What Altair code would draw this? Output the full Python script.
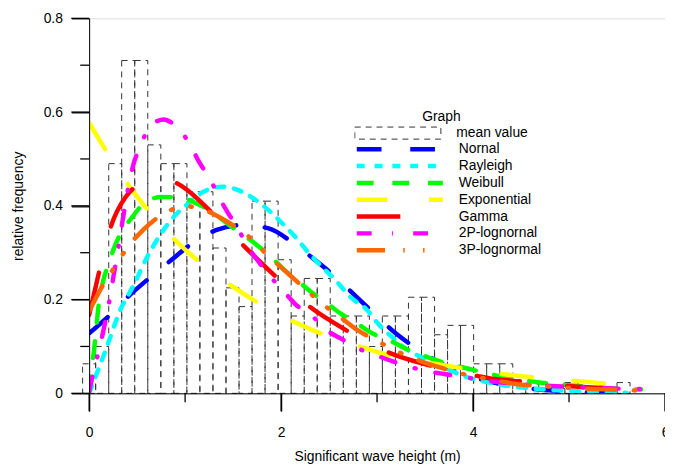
import altair as alt
import pandas as pd

# ---------------- histogram (dashed bars) ----------------
bin_centers = [0.0, 0.136, 0.272, 0.407, 0.543, 0.679, 0.815, 0.951, 1.086, 1.222,
               1.358, 1.494, 1.630, 1.765, 1.901, 2.037, 2.173, 2.309, 2.444, 2.580,
               2.716, 2.852, 2.988, 3.123, 3.259, 3.395, 3.531, 3.667, 3.802, 3.938,
               4.074, 4.210, 4.346, 4.481, 4.617, 4.753, 4.889, 5.025, 5.160, 5.296,
               5.432, 5.568]
rel_freq = [0.063, 0.10, 0.49, 0.71, 0.71, 0.53, 0.49, 0.49, 0.43, 0.43,
            0.31, 0.225, 0.185, 0.41, 0.41, 0.285, 0.165, 0.245, 0.245, 0.165,
            0.165, 0.165, 0.10, 0.165, 0.165, 0.205, 0.205, 0.125, 0.145, 0.145,
            0.063, 0.063, 0.063, 0.02, 0.02, 0.01, 0.01, 0.023, 0.01, 0.01,
            0.01, 0.023]
BIN_WIDTH = 0.1358

# ---------------- fitted curves ----------------
normal_x = [0, 0.22, 0.41, 0.64, 0.86, 1.08, 1.32, 1.6, 1.87, 2.13, 2.35, 2.58, 2.78,
            2.97, 3.2, 3.44, 3.7, 4.0, 4.3, 4.7, 5.0, 5.3, 5.6]
normal_y = [0.128, 0.168, 0.207, 0.248, 0.285, 0.321, 0.348, 0.359, 0.352, 0.32, 0.285,
            0.246, 0.207, 0.17, 0.127, 0.092, 0.06, 0.035, 0.019, 0.008, 0.004, 0.002, 0.001]

rayleigh_x = [0, 0.17, 0.33, 0.46, 0.6, 0.74, 0.88, 1.01, 1.19, 1.39, 1.56, 1.74, 1.89,
              2.03, 2.16, 2.29, 2.42, 2.56, 2.73, 2.89, 3.0, 3.14, 3.3, 3.54, 3.76, 3.92,
              4.24, 4.48, 4.76, 5.0, 5.3, 5.6]
rayleigh_y = [0.0, 0.091, 0.18, 0.229, 0.289, 0.338, 0.376, 0.401, 0.43, 0.441, 0.433,
              0.412, 0.387, 0.359, 0.331, 0.299, 0.271, 0.243, 0.204, 0.179, 0.151, 0.123,
              0.095, 0.07, 0.049, 0.036, 0.02, 0.013, 0.008, 0.005, 0.003, 0.001]

weibull_x = [0, 0.017, 0.05, 0.07, 0.1, 0.14, 0.2, 0.25, 0.34, 0.45, 0.55, 0.75, 0.96,
             1.12, 1.26, 1.44, 1.68, 1.89, 2.03, 2.18, 2.32, 2.49, 2.63, 2.8, 2.96, 3.13,
             3.3, 3.49, 3.64, 3.92, 4.21, 4.38, 4.59, 4.78, 4.9, 5.2, 5.5, 5.75]
weibull_y = [0.0, 0.042, 0.09, 0.13, 0.19, 0.235, 0.275, 0.305, 0.345, 0.376, 0.401,
             0.419, 0.417, 0.405, 0.39, 0.362, 0.327, 0.292, 0.264, 0.239, 0.215, 0.19,
             0.169, 0.148, 0.127, 0.113, 0.095, 0.08, 0.069, 0.054, 0.04, 0.032, 0.026,
             0.021, 0.019, 0.014, 0.01, 0.008]

expo_x = [0, 0.2, 0.4, 0.65, 0.9, 1.2, 1.5, 1.83, 2.15, 2.5, 2.9, 3.2, 3.6, 3.9, 4.35,
          4.75, 5.1, 5.5, 5.75]
expo_y = [0.577, 0.51, 0.447, 0.382, 0.326, 0.272, 0.227, 0.185, 0.151, 0.121, 0.095,
          0.077, 0.063, 0.053, 0.040, 0.032, 0.026, 0.019, 0.016]

gamma_x = [0, 0.11, 0.22, 0.38, 0.48, 0.7, 0.89, 0.98, 1.29, 1.6, 1.94, 2.29, 2.7, 3.11,
           3.54, 3.9, 4.18, 4.52, 4.85, 5.19, 5.5, 5.75]
gamma_y = [0.167, 0.264, 0.352, 0.419, 0.44, 0.456, 0.45, 0.44, 0.383, 0.317, 0.25, 0.186,
           0.132, 0.088, 0.06, 0.043, 0.032, 0.025, 0.018, 0.013, 0.01, 0.008]

logn2_x = [0, 0.05, 0.1, 0.15, 0.2, 0.25, 0.3, 0.35, 0.4, 0.46, 0.54, 0.62, 0.7, 0.78,
           0.86, 0.94, 1.05, 1.15, 1.26, 1.34, 1.44, 1.55, 1.64, 1.75, 1.87, 2.01, 2.15,
           2.34, 2.46, 2.63, 2.8, 2.99, 3.18, 3.35, 3.56, 3.76, 3.92, 4.35, 4.52, 5.0,
           5.32, 5.53, 5.75]
logn2_y = [0.004, 0.05, 0.09, 0.135, 0.185, 0.245, 0.305, 0.37, 0.43, 0.487, 0.53, 0.566,
           0.58, 0.584, 0.577, 0.563, 0.531, 0.492, 0.457, 0.424, 0.387, 0.352, 0.317,
           0.285, 0.253, 0.222, 0.19, 0.162, 0.137, 0.116, 0.096, 0.081, 0.067, 0.056,
           0.046, 0.039, 0.034, 0.022, 0.019, 0.014, 0.011, 0.01, 0.009]

logn3_x = [0, 0.17, 0.26, 0.31, 0.4, 0.45, 0.56, 0.84, 1.0, 1.1, 1.23, 1.29, 1.44, 1.72,
           1.84, 2.01, 2.2, 2.46, 2.6, 2.78, 2.99, 3.3, 3.69, 3.94, 4.31, 4.41, 4.67,
           4.91, 5.26, 5.43, 5.72]
logn3_y = [0.175, 0.24, 0.268, 0.285, 0.31, 0.324, 0.348, 0.39, 0.399, 0.397, 0.389,
           0.383, 0.366, 0.324, 0.298, 0.267, 0.232, 0.186, 0.165, 0.137, 0.113, 0.081,
           0.053, 0.039, 0.025, 0.021, 0.016, 0.013, 0.009, 0.008, 0.006]

series_names = ["Nornal", "Rayleigh", "Weibull", "Exponential", "Gamma",
                "2P-lognornal", "3P-lognormal"]
series_colors = ["#0000ff", "#00ffff", "#00ff00", "#ffff00", "#ff0000",
                 "#ff00ff", "#ff6600"]
series_dashes = [[25, 29], [8, 10], [17, 19], [31, 42], [44, 48],
                 [15, 20.5, 1, 20.5], [28.5, 18.5, 1.5, 18.5, 1.5, 18.5]]

x_major = [0, 2, 4, 6]
x_minor = [1, 3, 5]
y_major = [0, 0.2, 0.4, 0.6, 0.8]
y_minor = [0.1, 0.3, 0.5, 0.7]

curve_xs = [normal_x, rayleigh_x, weibull_x, expo_x, gamma_x, logn2_x, logn3_x]
curve_ys = [normal_y, rayleigh_y, weibull_y, expo_y, gamma_y, logn2_y, logn3_y]

rows = []
for name, xs, ys in zip(series_names, curve_xs, curve_ys):
    for i, (xv, yv) in enumerate(zip(xs, ys)):
        rows.append({"series": name, "h": xv, "f": yv, "order": i})
curves = pd.DataFrame(rows)

hist = pd.DataFrame({"center": bin_centers, "freq": rel_freq})
hist["left"] = hist["center"] - BIN_WIDTH / 2
hist["right"] = hist["center"] + BIN_WIDTH / 2
hist["kind"] = "mean value"

PLOT_W, PLOT_H = 582, 379
MAJOR, MINOR = 18, 9
FONT = "Liberation Sans"

x_scale = alt.Scale(domain=[0, 6], nice=False, zero=False)
y_scale = alt.Scale(domain=[0, 0.8], nice=False)

common = dict(grid=False, domainColor="black", labelColor="black",
              titleColor="black", labelFont=FONT, labelFontSize=14, titleFont=FONT,
              titleFontSize=14, titleFontWeight="normal", labelFlush=False,
              labelOverlap=False, format="~g", zindex=1,
              ticks=True, tickColor="#000000", tickWidth=1.3, tickOpacity=1)

x_axis = alt.Axis(title="Significant wave height (m)", values=x_major, orient="bottom",
                  tickSize=MAJOR, labelPadding=15, titlePadding=10, **common)
y_axis = alt.Axis(title="relative frequency", values=y_major, orient="left",
                  tickSize=MAJOR, labelPadding=9, titlePadding=18, **common)

bars = alt.Chart(hist).mark_rect(
    fill="transparent", fillOpacity=0, strokeWidth=1, strokeDash=[6, 5]
).encode(
    x=alt.X("left:Q", scale=x_scale, axis=x_axis),
    x2="right:Q",
    y=alt.Y("freq:Q", scale=y_scale, axis=y_axis),
    y2=alt.datum(0),
    stroke=alt.Stroke("kind:N", scale=alt.Scale(domain=["mean value"], range=["#333333"]),
                      legend=alt.Legend(
                          title="Graph", orient="none", legendX=268, legendY=93,
                          titleAnchor="middle", titlePadding=1,
                          titleFont=FONT, titleFontSize=14, titleFontWeight="normal",
                          titleColor="black",
                          labelFont=FONT, labelFontSize=14, labelColor="black",
                          labelOffset=15,
                          symbolType="M-1,-0.14H1V0.14H-1Z", symbolSize=7569,
                          symbolDash=[6, 5], symbolStrokeWidth=1,
                          symbolFillColor="white", symbolOpacity=1, clipHeight=16,
                          padding=0,
                      )),
)

# minor tick marks drawn as rules through the same scales
def x_ticks(vals, length):
    return alt.Chart(pd.DataFrame({"h": vals})).mark_rule(
        color="black", strokeWidth=1.3, clip=False
    ).encode(x=alt.X("h:Q", scale=x_scale),
             y=alt.value(PLOT_H), y2=alt.value(PLOT_H + length))

def y_ticks(vals, length):
    return alt.Chart(pd.DataFrame({"f": vals})).mark_rule(
        color="black", strokeWidth=1.3, clip=False
    ).encode(y=alt.Y("f:Q", scale=y_scale),
             x=alt.value(0), x2=alt.value(-length))

curve_legend = alt.Legend(
    title=None, orient="none", legendX=268, legendY=124,
    labelFont=FONT, labelFontSize=14, labelColor="black", labelOffset=13.5,
    symbolType="stroke", symbolSize=7569, symbolStrokeWidth=4.5,
    clipHeight=16.7, rowPadding=0, padding=0,
)

lines = alt.Chart(curves).mark_line(
    strokeWidth=4.5, strokeCap="round", interpolate="monotone", clip=True
).encode(
    x=alt.X("h:Q", scale=x_scale),
    y=alt.Y("f:Q", scale=y_scale),
    color=alt.Color("series:N", sort=series_names,
                    scale=alt.Scale(domain=series_names, range=series_colors),
                    legend=curve_legend),
    strokeDash=alt.StrokeDash("series:N", sort=series_names,
                              scale=alt.Scale(domain=series_names, range=series_dashes),
                              legend=curve_legend),
    order="order:Q",
)

chart = alt.layer(
    bars,
    x_ticks(x_major, MAJOR), x_ticks(x_minor, MINOR),
    y_ticks(y_major, MAJOR), y_ticks(y_minor, MINOR),
    lines,
).properties(
    width=PLOT_W, height=PLOT_H,
    autosize=alt.AutoSizeParams(type="none"),
    padding={"left": 82, "top": 8, "right": 0, "bottom": 70},
).configure_view(stroke=None).configure(background="white")

chart.save("out.html", embed_options={"renderer": "svg", "actions": False})
